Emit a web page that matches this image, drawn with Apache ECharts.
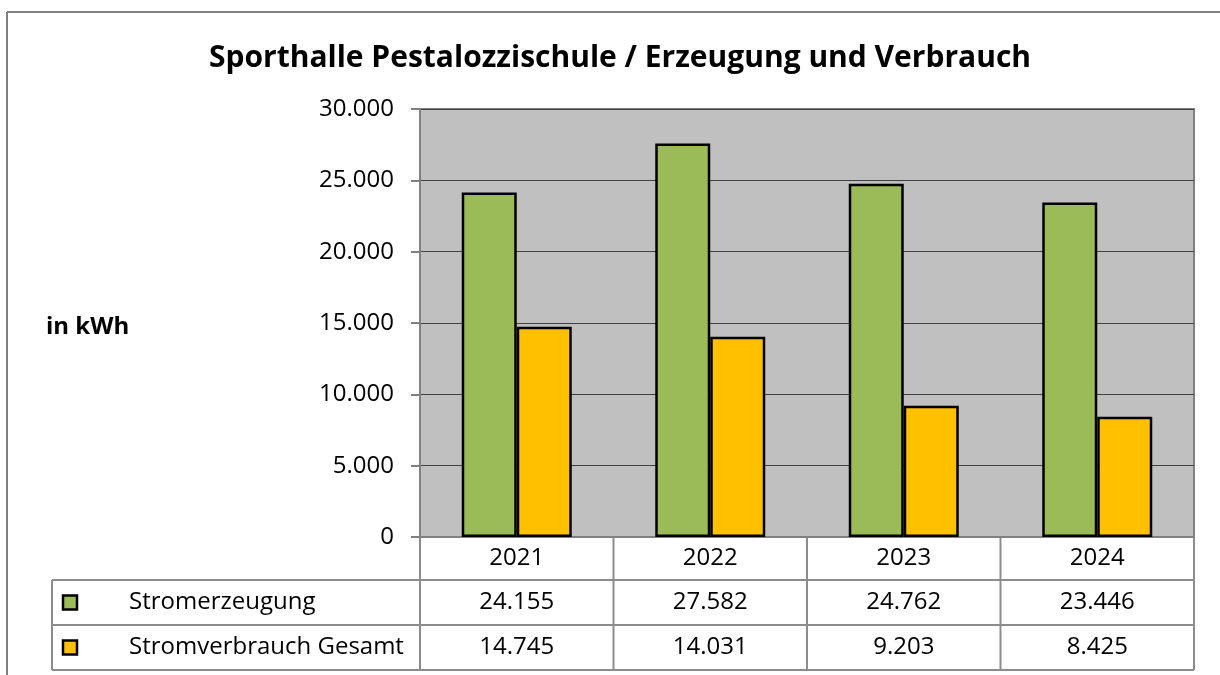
<!DOCTYPE html>
<html>
<head>
<meta charset="utf-8">
<script src="https://cdn.jsdelivr.net/npm/echarts@6/dist/echarts.min.js"></script>
<style>
  html, body { margin: 0; padding: 0; background: #fff; }
  #main { width: 1220px; height: 675px; }
</style>
</head>
<body>
<div id="main"></div>
<script>
var years = ['2021', '2022', '2023', '2024'];
var seriesNames = ['Stromerzeugung', 'Stromverbrauch Gesamt'];
var erzeugung = [24155, 27582, 24762, 23446];
var verbrauch = [14745, 14031, 9203, 8425];
var colors = ['#9bbb59', '#ffc000'];

function fmt(v) {
    return String(v).replace(/\B(?=(\d{3})+(?!\d))/g, '.');
}

var font = '"Open Sans", "Noto Sans", sans-serif';
var fs = 24;
var chart = echarts.init(document.getElementById('main'));

var gridL = 420, gridT = 109, gridW = 774, gridH = 428;
var tableLeft = 52, rowH = 45, lineColor = '#8c8c8c';

var option = {
    backgroundColor: '#fff',
    animation: false,
    title: {
        text: 'Sporthalle Pestalozzischule / Erzeugung und Verbrauch',
        left: 615,
        top: 38,
        textAlign: 'center',
        textStyle: { fontFamily: font, fontWeight: 'bold', fontSize: 30, color: '#000' }
    },
    grid: {
        left: gridL, top: gridT, width: gridW, height: gridH,
        show: true,
        backgroundColor: '#c0c0c0',
        borderColor: '#808080',
        borderWidth: 2
    },
    xAxis: {
        type: 'category',
        data: years,
        axisLine: { show: true, lineStyle: { color: '#808080', width: 2 } },
        axisTick: { show: false },
        axisLabel: { fontFamily: font, fontSize: fs, color: '#000', margin: 9 }
    },
    yAxis: {
        type: 'value',
        min: 0,
        max: 30000,
        interval: 5000,
        axisLine: { show: true, lineStyle: { color: '#808080', width: 2 } },
        axisTick: { show: true, length: 9, lineStyle: { color: '#808080', width: 2 } },
        splitLine: { show: true, lineStyle: { color: '#404040', width: 1 } },
        axisLabel: {
            fontFamily: font, fontSize: fs, color: '#000', margin: 26,
            formatter: function (v) { return fmt(v); }
        }
    },
    series: [
        {
            name: seriesNames[0],
            type: 'bar',
            data: erzeugung,
            barWidth: 55,
            barGap: '0%',
            itemStyle: { color: colors[0], borderColor: '#000', borderWidth: 2.5 }
        },
        {
            name: seriesNames[1],
            type: 'bar',
            data: verbrauch,
            barWidth: 55,
            barGap: '0%',
            itemStyle: { color: colors[1], borderColor: '#000', borderWidth: 2.5 }
        }
    ]
};
chart.setOption(option);

// data table under the plot, built from the same arrays
var rowsData = [erzeugung, verbrauch];
var g = [];
var bottom = gridT + gridH;
var tableTop = bottom + 43;
var tableBottom = tableTop + rowsData.length * rowH;
var right = gridL + gridW;

// outer chart frame
g.push({ type: 'line', shape: { x1: 7, y1: 12, x2: 1220, y2: 12 }, style: { stroke: '#808080', lineWidth: 2 } });
g.push({ type: 'line', shape: { x1: 7, y1: 12, x2: 7, y2: 675 }, style: { stroke: '#808080', lineWidth: 2 } });

// vertical lines at category boundaries
for (var i = 0; i <= years.length; i++) {
    var x = gridL + gridW * i / years.length;
    g.push({ type: 'line', shape: { x1: x, y1: bottom, x2: x, y2: tableBottom }, style: { stroke: lineColor, lineWidth: 2 } });
}
g.push({ type: 'line', shape: { x1: tableLeft, y1: tableTop, x2: tableLeft, y2: tableBottom }, style: { stroke: lineColor, lineWidth: 2 } });
for (var r = 0; r <= rowsData.length; r++) {
    var y = tableTop + r * rowH;
    g.push({ type: 'line', shape: { x1: tableLeft, y1: y, x2: right, y2: y }, style: { stroke: lineColor, lineWidth: 2 } });
}

rowsData.forEach(function (vals, r) {
    var cy = tableTop + r * rowH + rowH / 2;
    g.push({
        type: 'rect', shape: { x: 63, y: cy - 7, width: 14, height: 14 },
        style: { fill: colors[r], stroke: '#000', lineWidth: 2.5 }
    });
    g.push({
        type: 'text', x: 129, y: cy,
        style: { text: seriesNames[r], fontFamily: font, fontSize: fs, fill: '#000', verticalAlign: 'middle' }
    });
    vals.forEach(function (v, c) {
        var cx = chart.convertToPixel({ xAxisIndex: 0 }, years[c]);
        g.push({
            type: 'text', x: cx, y: cy,
            style: { text: fmt(v), fontFamily: font, fontSize: fs, fill: '#000', align: 'center', verticalAlign: 'middle' }
        });
    });
});

g.push({
    type: 'text', x: 46, y: 327,
    style: { text: 'in kWh', fontFamily: font, fontSize: 24, fontWeight: 'bold', fill: '#000', verticalAlign: 'middle' }
});

chart.setOption({ graphic: g });
</script>
</body>
</html>
